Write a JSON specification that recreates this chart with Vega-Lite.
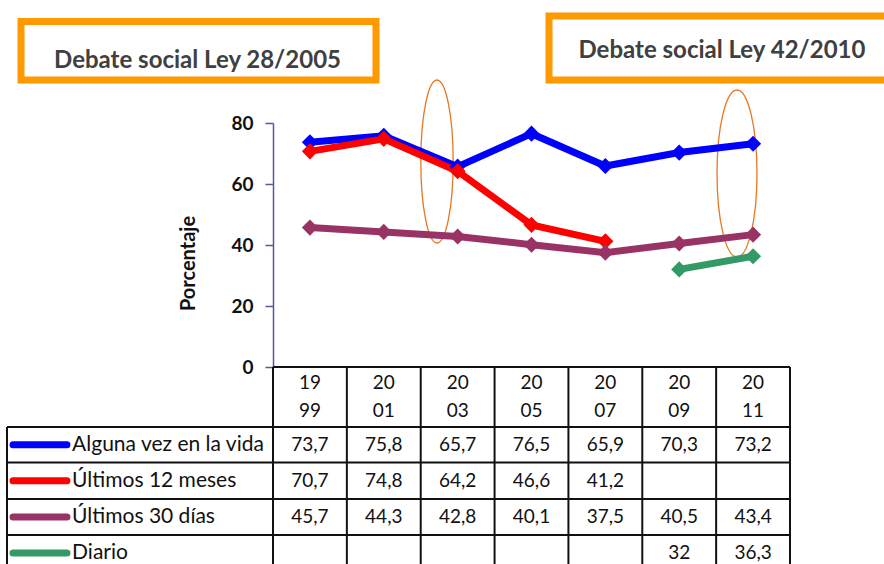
{
  "$schema": "https://vega.github.io/schema/vega-lite/v6.json",
  "width": 517,
  "height": 244,
  "autosize": {"type": "none"},
  "padding": {"left": 273, "top": 123, "right": 94, "bottom": 197},
  "background": "white",
  "config": {
    "view": {"stroke": null},
    "font": "Lato",
    "locale": {"number": {"decimal": ",", "thousands": ".", "grouping": [3], "currency": ["", " €"]}}
  },
  "datasets": {
    "series": [
      {"serie": "Alguna vez en la vida", "year": 1999, "value": 73.7},
      {"serie": "Alguna vez en la vida", "year": 2001, "value": 75.8},
      {"serie": "Alguna vez en la vida", "year": 2003, "value": 65.7},
      {"serie": "Alguna vez en la vida", "year": 2005, "value": 76.5},
      {"serie": "Alguna vez en la vida", "year": 2007, "value": 65.9},
      {"serie": "Alguna vez en la vida", "year": 2009, "value": 70.3},
      {"serie": "Alguna vez en la vida", "year": 2011, "value": 73.2},
      {"serie": "Últimos 12 meses", "year": 1999, "value": 70.7},
      {"serie": "Últimos 12 meses", "year": 2001, "value": 74.8},
      {"serie": "Últimos 12 meses", "year": 2003, "value": 64.2},
      {"serie": "Últimos 12 meses", "year": 2005, "value": 46.6},
      {"serie": "Últimos 12 meses", "year": 2007, "value": 41.2},
      {"serie": "Últimos 30 días", "year": 1999, "value": 45.7},
      {"serie": "Últimos 30 días", "year": 2001, "value": 44.3},
      {"serie": "Últimos 30 días", "year": 2003, "value": 42.8},
      {"serie": "Últimos 30 días", "year": 2005, "value": 40.1},
      {"serie": "Últimos 30 días", "year": 2007, "value": 37.5},
      {"serie": "Últimos 30 días", "year": 2009, "value": 40.5},
      {"serie": "Últimos 30 días", "year": 2011, "value": 43.4},
      {"serie": "Diario", "year": 2009, "value": 32},
      {"serie": "Diario", "year": 2011, "value": 36.3}
    ],
    "rows": [
      {"serie": "Alguna vez en la vida", "rowY": -25.48},
      {"serie": "Últimos 12 meses", "rowY": -37.28},
      {"serie": "Últimos 30 días", "rowY": -49.18},
      {"serie": "Diario", "rowY": -60.98}
    ],
    "years": [
      {"year": 1999, "label": "19\n99"},
      {"year": 2001, "label": "20\n01"},
      {"year": 2003, "label": "20\n03"},
      {"year": 2005, "label": "20\n05"},
      {"year": 2007, "label": "20\n07"},
      {"year": 2009, "label": "20\n09"},
      {"year": 2011, "label": "20\n11"}
    ],
    "hlines": [
      {"y": 0, "from": 1998, "to": 2012},
      {"y": -19.67, "from": 1990.797, "to": 2012},
      {"y": -31.31, "from": 1990.797, "to": 2012},
      {"y": -43.28, "from": 1990.797, "to": 2012},
      {"y": -55.08, "from": 1990.797, "to": 2012}
    ],
    "vlines": [
      {"x": 1990.797, "top": -19.67, "bottom": -72},
      {"x": 1998, "top": 0, "bottom": -72},
      {"x": 2000, "top": 0, "bottom": -72},
      {"x": 2002, "top": 0, "bottom": -72},
      {"x": 2004, "top": 0, "bottom": -72},
      {"x": 2006, "top": 0, "bottom": -72},
      {"x": 2008, "top": 0, "bottom": -72},
      {"x": 2010, "top": 0, "bottom": -72},
      {"x": 2012, "top": 0, "bottom": -72}
    ],
    "boxes": [
      {"text": "Debate social Ley 28/2005", "x1": 1991.176, "x2": 2000.789, "y1": 113.28, "y2": 94.1, "tx": 1995.956, "ty": 100.33},
      {"text": "Debate social Ley 42/2010", "x1": 2005.474, "x2": 2014.762, "y1": 115.08, "y2": 94.1, "tx": 2010.158, "ty": 103.6}
    ],
    "ellipses": [
      {"ley": "28/2005", "year": 2002.441, "v": 67.38},
      {"ley": "42/2010", "year": 2010.565, "v": 63.44}
    ]
  },
  "layer": [
    {
      "data": {"name": "boxes"},
      "mark": {"type": "rect", "fill": "white", "stroke": "#FF9900", "strokeWidth": 7},
      "encoding": {
        "x": {"field": "x1", "type": "quantitative", "scale": {"domain": [1998, 2012], "nice": false, "zero": false}, "axis": null},
        "x2": {"field": "x2"},
        "y": {
          "field": "y1", "type": "quantitative",
          "scale": {"domain": [0, 80], "nice": false, "zero": false},
          "axis": {
            "title": "Porcentaje",
            "values": [0, 20, 40, 60, 80],
            "titleFontSize": 20, "titleFontWeight": "bold", "titleColor": "#111111", "titlePadding": 32, "titleY": 140,
            "labelFontSize": 19, "labelFontWeight": "bold", "labelColor": "#111111", "labelPadding": 12,
            "tickSize": 8, "tickColor": "#5555AA", "tickWidth": 1.5,
            "domainColor": "#5555AA", "domainWidth": 1.5, "grid": false
          }
        },
        "y2": {"field": "y2"}
      }
    },
    {
      "data": {"name": "boxes"},
      "mark": {"type": "text", "fontSize": 24, "fontWeight": "bold", "color": "#404040", "align": "center", "baseline": "middle"},
      "encoding": {
        "x": {"field": "tx", "type": "quantitative", "axis": null},
        "y": {"field": "ty", "type": "quantitative"},
        "text": {"field": "text"}
      }
    },
    {
      "data": {"name": "ellipses"},
      "mark": {"type": "point", "filled": false, "stroke": "#E87722", "strokeWidth": 1.3, "opacity": 1, "size": 27889},
      "encoding": {
        "x": {"field": "year", "type": "quantitative", "axis": null},
        "y": {"field": "v", "type": "quantitative"},
        "shape": {
          "field": "ley", "type": "nominal", "legend": null,
          "scale": {
            "domain": ["28/2005", "42/2010"],
            "range": [
              "M0,-0.976C0.1071,-0.976,0.194,-0.539,0.194,0C0.194,0.539,0.1071,0.976,0,0.976C-0.1071,0.976,-0.194,0.539,-0.194,0C-0.194,-0.539,-0.1071,-0.976,0,-0.976Z",
              "M0,-1C0.1323,-1,0.2395,-0.5523,0.2395,0C0.2395,0.5523,0.1323,1,0,1C-0.1323,1,-0.2395,0.5523,-0.2395,0C-0.2395,-0.5523,-0.1323,-1,0,-1Z"
            ]
          }
        }
      }
    },
    {
      "data": {"name": "hlines"},
      "mark": {"type": "rule", "color": "#111111", "strokeWidth": 2},
      "encoding": {
        "x": {"field": "from", "type": "quantitative", "axis": null},
        "x2": {"field": "to"},
        "y": {"field": "y", "type": "quantitative"}
      }
    },
    {
      "data": {"name": "vlines"},
      "mark": {"type": "rule", "color": "#111111", "strokeWidth": 2},
      "encoding": {
        "x": {"field": "x", "type": "quantitative", "axis": null},
        "y": {"field": "top", "type": "quantitative"},
        "y2": {"field": "bottom"}
      }
    },
    {
      "data": {"name": "years"},
      "mark": {"type": "text", "fontSize": 19, "color": "#111111", "align": "center", "baseline": "middle", "lineBreak": "\n", "lineHeight": 28},
      "encoding": {
        "x": {"field": "year", "type": "quantitative", "axis": null},
        "y": {"datum": -5.25, "type": "quantitative"},
        "text": {"field": "label"}
      }
    },
    {
      "data": {"name": "rows"},
      "mark": {"type": "rule", "strokeWidth": 7, "strokeCap": "round"},
      "encoding": {
        "x": {"datum": 1990.96, "type": "quantitative", "axis": null},
        "x2": {"datum": 1992.42},
        "y": {"field": "rowY", "type": "quantitative"},
        "color": {"field": "serie", "type": "nominal", "legend": null,
          "scale": {"domain": ["Alguna vez en la vida", "Últimos 12 meses", "Últimos 30 días", "Diario"], "range": ["#0000FF", "#FF0000", "#993366", "#339966"]}}
      }
    },
    {
      "data": {"name": "rows"},
      "mark": {"type": "text", "fontSize": 21, "color": "#111111", "align": "left", "baseline": "middle"},
      "encoding": {
        "x": {"datum": 1992.56, "type": "quantitative", "axis": null},
        "y": {"field": "rowY", "type": "quantitative"},
        "text": {"field": "serie"}
      }
    },
    {
      "data": {"name": "series"},
      "transform": [
        {"lookup": "serie", "from": {"data": {"name": "rows"}, "key": "serie", "fields": ["rowY"]}}
      ],
      "mark": {"type": "text", "fontSize": 19, "color": "#111111", "align": "center", "baseline": "middle"},
      "encoding": {
        "x": {"field": "year", "type": "quantitative", "axis": null},
        "y": {"field": "rowY", "type": "quantitative"},
        "text": {"field": "value", "type": "quantitative", "format": "~g"}
      }
    },
    {
      "data": {"name": "series"},
      "mark": {"type": "line", "strokeWidth": 7, "point": {"shape": "diamond", "size": 260, "filled": true, "opacity": 1}},
      "encoding": {
        "x": {"field": "year", "type": "quantitative", "axis": null},
        "y": {"field": "value", "type": "quantitative"},
        "color": {"field": "serie", "type": "nominal", "legend": null, "sort": null},
        "order": {"field": "year"}
      }
    }
  ]
}
